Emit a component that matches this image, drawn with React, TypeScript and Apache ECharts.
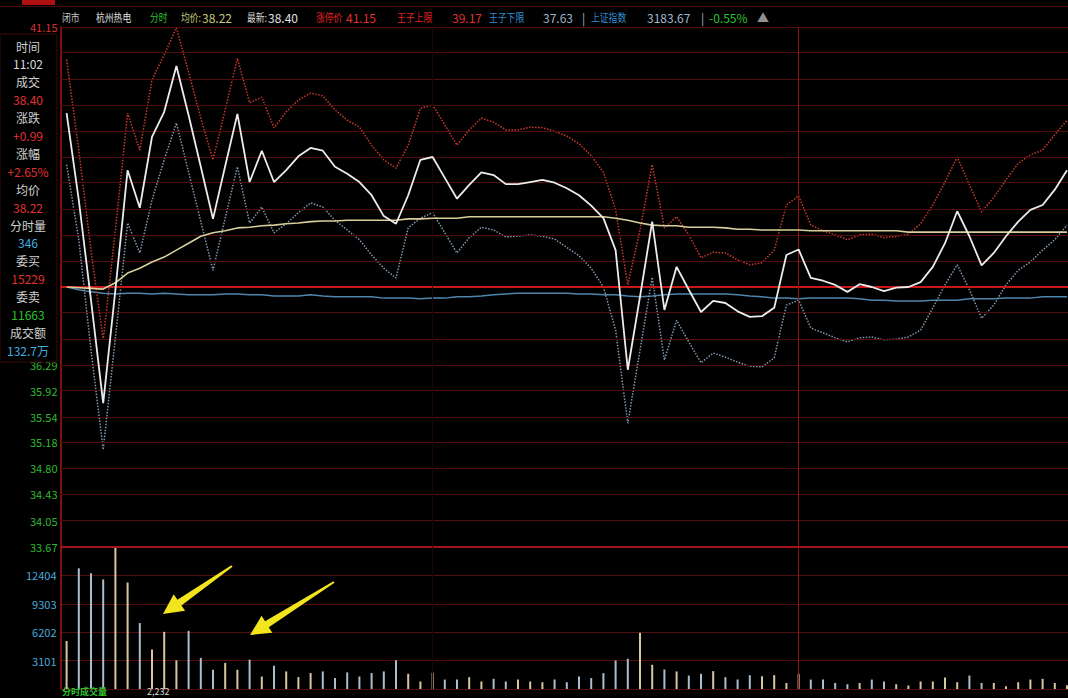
import React, { useEffect, useRef } from "react";
import * as echarts from "echarts";

// ---------- data ----------
const prevClose = 37.41;
const priceMin = 33.67;
const priceMax = 41.15;
const priceTicks = [41.15, 40.78, 40.40, 40.03, 39.65, 39.28, 38.91, 38.53, 38.16, 37.78, 37.41, 37.04, 36.66, 36.29, 35.92, 35.54, 35.18, 34.80, 34.43, 34.05, 33.67];
const volumeMax = 15505;
const volumeInterval = 3101;

const times: string[] = [];
for (let i = 0; i < 83; i++) {
  const m = 30 + i;
  const h = 9 + Math.floor(m / 60);
  times.push(`${String(h).padStart(2, "0")}:${String(m % 60).padStart(2, "0")}`);
}

const priceLine = [39.91, 38.66, 37.22, 35.74, 37.37, 39.09, 38.55, 39.57, 39.93, 40.59,
  39.88, 39.14, 38.39, 39.15, 39.90, 38.92, 39.37, 38.92, 39.09, 39.29,
  39.41, 39.37, 39.14, 39.04, 38.92, 38.73, 38.43, 38.32, 38.73, 39.24,
  39.28, 38.98, 38.68, 38.88, 39.06, 39.02, 38.89, 38.89, 38.92, 38.95,
  38.91, 38.83, 38.73, 38.58, 38.40, 37.94, 36.22, 37.27, 38.35, 37.08,
  37.70, 37.37, 37.05, 37.21, 37.18, 37.06, 36.98, 36.99, 37.11, 37.87,
  37.95, 37.54, 37.50, 37.44, 37.34, 37.45, 37.41, 37.35, 37.40, 37.41,
  37.48, 37.70, 38.04, 38.50, 38.14, 37.72, 37.90, 38.14, 38.35, 38.52,
  38.59, 38.81, 39.09];

const avgLine = [37.41, 37.40, 37.39, 37.38, 37.47, 37.61, 37.68, 37.77, 37.84, 37.94,
  38.04, 38.14, 38.19, 38.22, 38.26, 38.27, 38.29, 38.30, 38.32, 38.33,
  38.35, 38.36, 38.36, 38.37, 38.37, 38.37, 38.37, 38.37, 38.39, 38.39,
  38.40, 38.40, 38.40, 38.42, 38.42, 38.42, 38.42, 38.42, 38.42, 38.42,
  38.42, 38.42, 38.42, 38.42, 38.42, 38.40, 38.37, 38.33, 38.30, 38.29,
  38.29, 38.27, 38.27, 38.27, 38.26, 38.24, 38.24, 38.23, 38.23, 38.23,
  38.23, 38.22, 38.22, 38.22, 38.22, 38.22, 38.22, 38.22, 38.22, 38.20,
  38.20, 38.20, 38.20, 38.20, 38.20, 38.20, 38.20, 38.20, 38.20, 38.20,
  38.20, 38.20, 38.20];

const indexLine = [37.41, 37.37, 37.34, 37.32, 37.31, 37.32, 37.32, 37.31, 37.32, 37.31,
  37.30, 37.30, 37.30, 37.31, 37.31, 37.30, 37.30, 37.28, 37.28, 37.28,
  37.30, 37.28, 37.27, 37.27, 37.27, 37.27, 37.25, 37.25, 37.25, 37.24,
  37.25, 37.25, 37.27, 37.27, 37.28, 37.30, 37.31, 37.32, 37.32, 37.32,
  37.32, 37.32, 37.31, 37.31, 37.30, 37.30, 37.28, 37.27, 37.28, 37.30,
  37.31, 37.31, 37.31, 37.31, 37.31, 37.30, 37.28, 37.27, 37.25, 37.25,
  37.24, 37.25, 37.25, 37.25, 37.25, 37.24, 37.22, 37.22, 37.21, 37.21,
  37.21, 37.22, 37.22, 37.22, 37.24, 37.24, 37.24, 37.25, 37.25, 37.25,
  37.27, 37.27, 37.27];

const upperBand = [40.68, 39.38, 37.94, 36.65, 38.23, 39.91, 39.38, 40.39, 40.75, 41.14,
  40.50, 39.84, 39.24, 39.96, 40.70, 40.06, 40.14, 39.70, 39.93, 40.10,
  40.20, 40.16, 39.96, 39.81, 39.71, 39.45, 39.24, 39.12, 39.45, 39.98,
  40.03, 39.74, 39.45, 39.67, 39.84, 39.78, 39.67, 39.67, 39.71, 39.70,
  39.65, 39.58, 39.47, 39.30, 39.06, 38.52, 37.44, 38.23, 39.17, 38.26,
  38.42, 38.16, 37.83, 37.91, 37.90, 37.80, 37.73, 37.76, 37.94, 38.59,
  38.72, 38.30, 38.22, 38.16, 38.09, 38.16, 38.17, 38.12, 38.14, 38.17,
  38.32, 38.59, 38.92, 39.28, 38.88, 38.49, 38.70, 38.95, 39.19, 39.31,
  39.38, 39.60, 39.81];

const lowerBand = [39.17, 38.09, 36.50, 35.07, 36.68, 38.33, 37.90, 38.66, 39.24, 39.77,
  39.06, 38.35, 37.65, 38.40, 39.14, 38.33, 38.56, 38.19, 38.32, 38.48,
  38.62, 38.56, 38.37, 38.23, 38.09, 37.87, 37.68, 37.54, 38.26, 38.40,
  38.48, 38.19, 37.90, 38.12, 38.27, 38.23, 38.13, 38.14, 38.16, 38.14,
  38.10, 37.98, 37.86, 37.68, 37.41, 36.79, 35.45, 36.50, 37.55, 36.36,
  36.93, 36.62, 36.32, 36.46, 36.40, 36.33, 36.27, 36.26, 36.39, 37.15,
  37.22, 36.82, 36.75, 36.68, 36.62, 36.68, 36.69, 36.65, 36.66, 36.69,
  36.79, 37.11, 37.44, 37.73, 37.37, 36.96, 37.15, 37.44, 37.65, 37.77,
  37.94, 38.09, 38.30];

const volume = [5240, 13180, 12630, 11960, 15400, 11630, 7200, 4320, 6240, 3130,
  6350, 3400, 2100, 2850, 2100, 3210, 1360, 2550, 1920, 1300,
  1740, 1920, 1190, 1810, 1360, 1740, 1920, 3130, 1660, 820,
  1770, 1030, 1030, 1290, 820, 1110, 820, 1040, 820, 740,
  1040, 740, 1360, 1190, 1730, 3110, 3300, 6150, 2650, 2130,
  1920, 1470, 1660, 1950, 1290, 1040, 1510, 1400, 1510, 660,
  1660, 1030, 1030, 660, 520, 660, 1030, 820, 520, 380,
  820, 820, 1250, 740, 1470, 660, 660, 300, 740, 1030,
  1110, 660, 400];

const titleItems = [
  { text: "闭市", color: "#c8c8c8", cjk: true },
  { text: "杭州热电", color: "#e0e0e0", cjk: true },
  { text: "分时", color: "#2fc02f", cjk: true },
  { text: "均价:", color: "#c8c878", cjk: true },
  { text: "38.22", color: "#c8c878", cjk: false },
  { text: "最新:", color: "#d8d8d8", cjk: true },
  { text: "38.40", color: "#e0e0e0", cjk: false },
  { text: "涨停价", color: "#e02020", cjk: true },
  { text: "41.15", color: "#e03030", cjk: false },
  { text: "王子上限", color: "#e02020", cjk: true },
  { text: "39.17", color: "#e03030", cjk: false },
  { text: "王子下限", color: "#2f8fd0", cjk: true },
  { text: "37.63", color: "#a0b4c8", cjk: false },
  { text: "|", color: "#a0b4c8", cjk: false },
  { text: "上证指数", color: "#2f8fd0", cjk: true },
  { text: "3183.67", color: "#a0b8d0", cjk: false },
  { text: "|", color: "#a0b4c8", cjk: false },
  { text: "-0.55%", color: "#2fc02f", cjk: false },
  { text: "▲", color: "#909090", cjk: false },
];
const titleX = [62, 96, 150, 181, 202, 247, 268, 316, 346, 397, 452, 489, 543, 582, 591, 647, 701, 709, 757];

const infoLabels = ["时间", "11:02", "成交", "38.40", "涨跌", "+0.99", "涨幅", "+2.65%", "均价", "38.22", "分时量", "346", "委买", "15229", "委卖", "11663", "成交额", "132.7万"];
const infoColors = ["#d0d0d0", "#d8d8d8", "#d0d0d0", "#e03030", "#d0d0d0", "#e03030", "#d0d0d0", "#e03030", "#d0d0d0", "#e03030", "#d0d0d0", "#3fb0e0", "#d0d0d0", "#e03030", "#d0d0d0", "#2fc02f", "#d0d0d0", "#3fb0e0"];

const FONT = '"Noto Sans CJK SC", "Noto Sans", sans-serif';

function arrow(tail: number[], tip: number[]) {
  const dx = tip[0] - tail[0];
  const dy = tip[1] - tail[1];
  const len = Math.sqrt(dx * dx + dy * dy);
  const ux = dx / len, uy = dy / len;
  const nx = -uy, ny = ux;
  const neck = [tip[0] - ux * 20, tip[1] - uy * 20];
  const p = (b: number[], s: number) => [b[0] + nx * s, b[1] + ny * s];
  return [p(tail, 1), p(neck, 3.5), p(neck, 10), tip, p(neck, -10), p(neck, -3.5), p(tail, -1)];
}

export default function App() {
  const ref = useRef<HTMLDivElement>(null);
  useEffect(() => {
    if (!ref.current) return;
    const chart = echarts.init(ref.current, undefined, { renderer: "svg" });

    const gridLeft = 60.5;
    const gridWidth = 83 * 12.2;

    const priceMarks: any[] = priceTicks.map((p) => {
      const special = p === prevClose || p === priceMin;
      const hiddenByPanel = p < priceMax && p > 36.29;
      return {
        yAxis: p,
        lineStyle: {
          color: p === prevClose ? "#c81818" : p === priceMin ? "#a41414" : "#520e0e",
          width: special ? 2 : 1,
          type: "solid",
        },
        label: {
          show: !hiddenByPanel,
          position: "start",
          formatter: p.toFixed(2),
          color: p > prevClose ? "#d83030" : p < prevClose ? "#2fb82f" : "#cccccc",
          fontSize: 11,
          fontFamily: FONT,
          distance: 3,
        },
      };
    });
    priceMarks.push({ xAxis: times[30], lineStyle: { color: "#1f0606", width: 1, type: "solid" }, label: { show: false } });
    priceMarks.push({ xAxis: times[60], lineStyle: { color: "#8a1414", width: 1, type: "solid" }, label: { show: false } });

    const graphics: any[] = [];
    // top strip
    graphics.push({ type: "rect", shape: { x: 22, y: 0, width: 33, height: 5 }, style: { fill: "#b01010" }, z: 100 });
    graphics.push({ type: "line", shape: { x1: 0, y1: 6.5, x2: 1080, y2: 6.5 }, style: { stroke: "#4e0d0d", lineWidth: 1 }, z: 100 });
    // title row
    titleItems.forEach((t, i) => {
      graphics.push({
        type: "text", x: titleX[i], y: 17, z: 100,
        scaleX: t.cjk ? 0.8 : 1,
        style: { text: t.text, fill: t.color, font: `${t.cjk ? 11 : 12}px ${FONT}`, textVerticalAlign: "middle", verticalAlign: "middle" },
      });
    });
    // info panel
    graphics.push({ type: "rect", shape: { x: 0, y: 34, width: 57, height: 328 }, style: { fill: "#000000", stroke: "#3a0a0a", lineWidth: 1 }, z: 100 });
    infoLabels.forEach((t, i) => {
      graphics.push({
        type: "text", x: 28, y: 46 + i * 17.9, z: 101,
        style: { text: t, fill: infoColors[i], font: `12px ${FONT}`, align: "center", verticalAlign: "middle", textAlign: "center", textVerticalAlign: "middle" },
      });
    });
    // arrows
    [[[232, 566], [163, 614]], [[334, 582], [250, 635]]].forEach(([a, b]) => {
      graphics.push({ type: "polygon", shape: { points: arrow(a, b) }, style: { fill: "#f2e51e" }, z: 100 });
    });
    // bottom legend
    graphics.push({ type: "text", x: 62, y: 687, z: 100, style: { text: "分时成交量", fill: "#2fc02f", font: `bold 9px ${FONT}` } });
    graphics.push({ type: "text", x: 147, y: 687, z: 100, style: { text: "2,232", fill: "#d8d8d8", font: `9px ${FONT}` } });

    chart.setOption({
      animation: false,
      backgroundColor: "#000000",
      grid: [
        { left: gridLeft, top: 27, width: gridWidth, height: 520 },
        { left: gridLeft, top: 547, width: gridWidth, height: 142 },
      ],
      xAxis: [
        { type: "category", gridIndex: 0, data: times, boundaryGap: true, axisLine: { show: false }, axisTick: { show: false }, axisLabel: { show: false }, splitLine: { show: false } },
        { type: "category", gridIndex: 1, data: times, boundaryGap: true, axisLine: { show: false }, axisTick: { show: false }, axisLabel: { show: false }, splitLine: { show: false } },
      ],
      yAxis: [
        {
          type: "value", gridIndex: 0, min: priceMin, max: priceMax,
          axisLine: { show: true, lineStyle: { color: "#a41818", width: 1.5 } },
          axisTick: { show: false }, axisLabel: { show: false }, splitLine: { show: false },
        },
        {
          type: "value", gridIndex: 1, min: 0, max: volumeMax, interval: volumeInterval,
          axisLine: { show: true, lineStyle: { color: "#a41818", width: 1.5 } },
          axisTick: { show: false },
          axisLabel: {
            color: "#4aa8d8", fontSize: 11, fontFamily: FONT, margin: 4,
            formatter: (v: number) => (v === 0 || v >= volumeMax ? "" : String(v)),
          },
          splitLine: { show: true, lineStyle: { color: "#520e0e", width: 1 } },
        },
      ],
      series: [
        {
          name: "index", type: "line", xAxisIndex: 0, yAxisIndex: 0, data: indexLine,
          showSymbol: false, lineStyle: { color: "#4f86ad", width: 1.5 }, z: 3,
          markLine: { silent: true, symbol: ["none", "none"], animation: false, data: priceMarks },
        },
        {
          name: "王子上限", type: "line", xAxisIndex: 0, yAxisIndex: 0, data: upperBand,
          showSymbol: false, lineStyle: { color: "#c83a2a", width: 1.5, type: "dotted" }, z: 4,
        },
        {
          name: "王子下限", type: "line", xAxisIndex: 0, yAxisIndex: 0, data: lowerBand,
          showSymbol: false, lineStyle: { color: "#8098b0", width: 1.5, type: "dotted" }, z: 4,
        },
        {
          name: "均价", type: "line", xAxisIndex: 0, yAxisIndex: 0, data: avgLine,
          showSymbol: false, lineStyle: { color: "#d8cf9a", width: 1.6 }, z: 5,
        },
        {
          name: "价格", type: "line", xAxisIndex: 0, yAxisIndex: 0, data: priceLine,
          showSymbol: false, lineStyle: { color: "#ececec", width: 1.8 }, z: 6,
        },
        {
          name: "成交量", type: "bar", xAxisIndex: 1, yAxisIndex: 1, data: volume, barWidth: 2,
          itemStyle: {
            color: (params: any) => {
              const i = params.dataIndex;
              const up = i === 0 ? priceLine[0] >= prevClose : priceLine[i] >= priceLine[i - 1];
              return up ? "#d8c6a2" : "#aabdcc";
            },
          },
          markLine: {
            silent: true, symbol: ["none", "none"], animation: false,
            data: [
              { xAxis: times[30], lineStyle: { color: "#1f0606", width: 1, type: "solid" }, label: { show: false } },
              { xAxis: times[60], lineStyle: { color: "#8a1414", width: 1, type: "solid" }, label: { show: false } },
            ],
          },
        },
      ],
      graphic: graphics,
    });
    return () => chart.dispose();
  }, []);

  return (
    <div style={{ position: "fixed", left: 0, top: 0, width: 1068, height: 698, overflow: "hidden", background: "#000" }}>
      <div ref={ref} style={{ width: 1080, height: 698 }} />
    </div>
  );
}
